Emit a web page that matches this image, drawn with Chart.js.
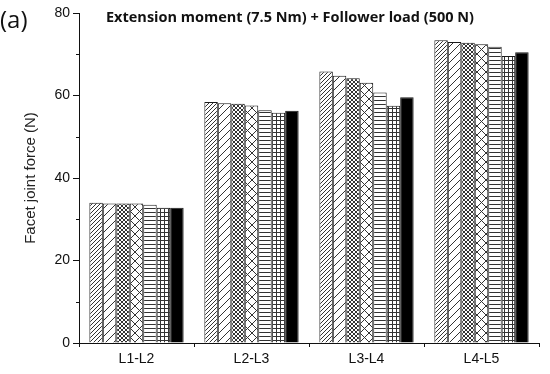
<!DOCTYPE html>
<html>
<head>
<meta charset="utf-8">
<script src="https://cdn.jsdelivr.net/npm/chart.js@4.4.0/dist/chart.umd.js"></script>
<style>
  html, body { margin: 0; padding: 0; background: #fff; }
  #wrap { width: 550px; height: 374px; position: relative; }
</style>
</head>
<body>
<div id="wrap"><canvas id="chart" width="550" height="374"></canvas></div>
<script>
// categories and series
const categories = ['L1-L2', 'L2-L3', 'L3-L4', 'L4-L5'];
const seriesNames = ['Case 1', 'Case 2', 'Case 3', 'Case 4', 'Case 5', 'Case 6', 'Case 7'];
const case1 = [34.0, 58.4, 65.8, 73.4];
const case2 = [33.8, 58.1, 64.8, 73.0];
const case3 = [33.8, 58.0, 64.2, 72.8];
const case4 = [33.8, 57.6, 63.1, 72.4];
const case5 = [33.5, 56.4, 60.7, 71.8];
const case6 = [32.8, 55.8, 57.5, 69.6];
const case7 = [32.8, 56.3, 59.6, 70.5];
const yTicks = [0, 20, 40, 60, 80];
const yMinorTicks = [10, 30, 50, 70];

const canvas = document.getElementById('chart');
const ctx = canvas.getContext('2d');

// little tile canvases used as hatch fills
function makePattern(size, draw) {
    const c = document.createElement('canvas');
    c.width = size;
    c.height = size;
    const g = c.getContext('2d');
    g.fillStyle = '#fff';
    g.fillRect(0, 0, size, size);
    g.strokeStyle = '#333';
    g.lineWidth = 1;
    draw(g, size);
    return ctx.createPattern(c, 'repeat');
}

function rising(g, s) {
    g.beginPath();
    g.moveTo(0, s); g.lineTo(s, 0);
    g.moveTo(-1, 1); g.lineTo(1, -1);
    g.moveTo(s - 1, s + 1); g.lineTo(s + 1, s - 1);
    g.stroke();
}

function falling(g, s) {
    g.beginPath();
    g.moveTo(0, 0); g.lineTo(s, s);
    g.moveTo(-1, s - 1); g.lineTo(1, s + 1);
    g.moveTo(s - 1, -1); g.lineTo(s + 1, 1);
    g.stroke();
}

const fills = [
    makePattern(4, rising),
    makePattern(8, rising),
    makePattern(4, (g, s) => { rising(g, s); falling(g, s); }),
    makePattern(9, (g, s) => { rising(g, s); falling(g, s); }),
    makePattern(4, (g, s) => {
        g.beginPath(); g.moveTo(0, 0.5); g.lineTo(s, 0.5); g.stroke();
    }),
    makePattern(4, (g, s) => {
        g.beginPath();
        g.moveTo(0, 0.5); g.lineTo(s, 0.5);
        g.moveTo(0.5, 0); g.lineTo(0.5, s);
        g.stroke();
    }),
    '#000'
];

const seriesData = [case1, case2, case3, case4, case5, case6, case7];

const datasets = seriesData.map((d, i) => ({
    label: seriesNames[i],
    data: d,
    backgroundColor: fills[i],
    borderColor: '#1a1a1a',
    borderWidth: 1,
    barPercentage: 1.0,
    categoryPercentage: 0.82
}));

const fontFamily = "'Liberation Sans', Arial, sans-serif";

// minor ticks, title and panel letter
const extras = {
    id: 'extras',
    afterDraw(chart) {
        const c = chart.ctx;
        const x = chart.scales.x;
        const y = chart.scales.y;
        c.save();
        c.strokeStyle = '#111';
        c.lineWidth = 1;
        c.beginPath();
        yMinorTicks.forEach(v => {
            const py = Math.round(y.getPixelForValue(v)) + 0.5;
            c.moveTo(x.left - 3, py);
            c.lineTo(x.left, py);
        });
        const step = x.getPixelForValue(1) - x.getPixelForValue(0);
        for (let i = 0; i <= categories.length; i++) {
            const px = Math.round(x.getPixelForValue(0) - step / 2 + i * step) + 0.5;
            c.moveTo(px, y.bottom);
            c.lineTo(px, y.bottom + 4);
        }
        c.stroke();

        c.fillStyle = '#111';
        c.textAlign = 'center';
        c.textBaseline = 'middle';
        c.font = "bold 14.5px 'Open Sans', sans-serif";
        c.fillText('Extension moment (7.5 Nm) + Follower load (500 N)', 290, 18);
        c.textAlign = 'left';
        c.font = "24px 'Open Sans', sans-serif";
        c.fillText('(a)', 0, 21);
        c.restore();
    }
};

new Chart(ctx, {
    type: 'bar',
    data: { labels: categories, datasets: datasets },
    options: {
        responsive: false,
        animation: false,
        layout: { padding: { top: 13, right: 11, left: 0, bottom: 0 } },
        plugins: {
            legend: { display: false },
            tooltip: { enabled: false }
        },
        scales: {
            x: {
                afterFit: s => { s.height = 31; },
                grid: {
                    drawOnChartArea: false,
                    tickLength: 4,
                    color: '#111'
                },
                border: { color: '#111', width: 1 },
                ticks: {
                    color: '#111',
                    padding: 4,
                    font: { family: fontFamily, size: 14 }
                }
            },
            y: {
                min: 0,
                max: 80,
                afterFit: s => { s.width = 79; },
                afterBuildTicks: s => { s.ticks = yTicks.map(v => ({ value: v })); },
                grid: {
                    drawOnChartArea: false,
                    tickLength: 6,
                    color: '#111'
                },
                border: { color: '#111', width: 1 },
                ticks: {
                    color: '#111',
                    padding: 3,
                    font: { family: fontFamily, size: 14 }
                },
                title: {
                    display: true,
                    text: 'Facet joint force (N)',
                    color: '#222',
                    padding: { top: 22, bottom: 0 },
                    font: { family: fontFamily, size: 15 }
                }
            }
        }
    },
    plugins: [extras]
});
</script>
</body>
</html>
